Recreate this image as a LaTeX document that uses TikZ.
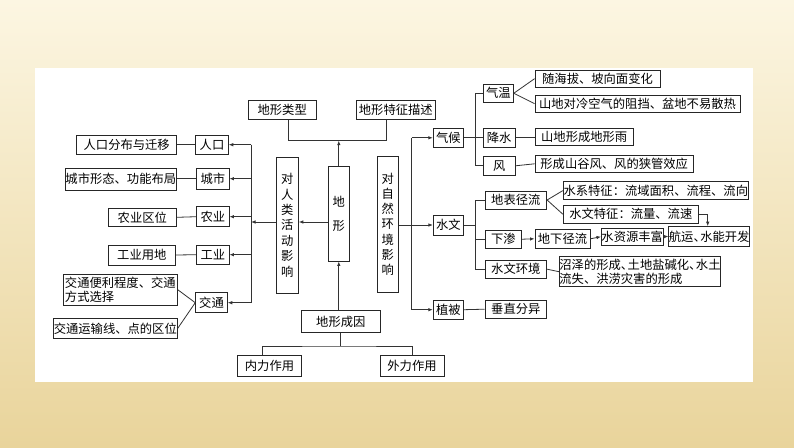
\documentclass[tikz,border=0pt]{standalone}
\usepackage{fontspec}
\setmainfont{Noto Sans CJK SC}
\usetikzlibrary{arrows.meta,calc}
\newcommand{\dun}{、\hspace{-0.45em}}
\definecolor{bgtop}{HTML}{FCF6E2}
\definecolor{bgbot}{HTML}{E9D49B}
\begin{document}
\begin{tikzpicture}[x=1pt,y=-1pt,
  box/.style={draw=black!85, line width=0.9pt, fill=white, inner sep=0.5pt,
    font=\fontsize{12.3}{14.5}\selectfont, text=black},
  vbox/.style={box, align=center},
  link/.style={draw=black!80, line width=0.8pt},
  arr/.style={link, -{Latex[length=4.5pt,width=3.5pt]}},
]
\useasboundingbox (0,0) rectangle (794,447);
\shade[top color=bgtop, bottom color=bgbot] (0,0) rectangle (794,447);
\fill[white] (35,68) rectangle (753,382);

% ---- left side ----
\node[box, minimum width=100pt, minimum height=19.3pt] (popmig) at (126.7,144.7) {人口分布与迁移};
\node[box, minimum width=32.6pt, minimum height=19.3pt] (renkou) at (212,144.7) {人口};
\node[box, minimum width=111.7pt, minimum height=22pt, inner xsep=0pt] (citymorph) at (120.8,179) {城市形态、功能布局};
\node[box, minimum width=32.3pt, minimum height=21.3pt] (chengshi) at (212.8,178.7) {城市};
\node[box, minimum width=68.7pt, minimum height=18.7pt] (nyqw) at (142.3,217.3) {农业区位};
\node[box, minimum width=32.3pt, minimum height=20pt] (nongye) at (212.8,216.7) {农业};
\node[box, minimum width=67.7pt, minimum height=20pt] (gyyd) at (141.8,255) {工业用地};
\node[box, minimum width=32.3pt, minimum height=19.3pt] (gongye) at (212.8,254.7) {工业};
\node[box, minimum width=114pt, minimum height=30.7pt, align=left] (jtbl) at (120.3,289.7) {交通便利程度、交通\\方式选择};
\node[box, minimum width=31.6pt, minimum height=20pt] (jiaotong) at (211.5,302.7) {交通};
\node[box, minimum width=124pt, minimum height=20pt, inner xsep=0pt] (jtys) at (115.3,328.3) {交通运输线、点的区位};

% ---- centre ----
\node[box, minimum width=67.7pt, minimum height=19.3pt] (dxlx) at (282.2,109.7) {地形类型};
\node[box, minimum width=78.3pt, minimum height=19.3pt] (dxtz) at (395.8,109.7) {地形特征描述};
\node[vbox, minimum width=22.3pt, minimum height=136pt, font=\fontsize{12.3}{15.4}\selectfont] (rlhd) at (287.2,225.3) {对\\人\\类\\活\\动\\影\\响};
\node[vbox, minimum width=21pt, minimum height=94.3pt, font=\fontsize{12.3}{24.4}\selectfont] (dixing) at (338.8,213.8) {地\\形};
\node[vbox, minimum width=21pt, minimum height=136.7pt, font=\fontsize{12.3}{15.3}\selectfont] (zrhj) at (387.8,224.3) {对\\自\\然\\环\\境\\影\\响};
\node[box, minimum width=78.3pt, minimum height=22pt] (dxcy) at (340.8,321.7) {地形成因};
\node[box, minimum width=64.4pt, minimum height=21pt] (nlzy) at (269.5,365.5) {内力作用};
\node[box, minimum width=64pt, minimum height=21pt] (wlzy) at (412,365.5) {外力作用};

% ---- right side ----
\node[box, minimum width=30pt, minimum height=19pt] (qihou) at (448.3,137.8) {气候};
\node[box, minimum width=30pt, minimum height=18.7pt] (qiwen) at (498.3,93.3) {气温};
\node[box, minimum width=31.7pt, minimum height=19pt] (jiangshui) at (499.2,137.8) {降水};
\node[box, minimum width=31.7pt, minimum height=18.3pt] (feng) at (499.2,165.8) {风};
\node[box, minimum width=125pt, minimum height=17.3pt] (qw1) at (597.5,78.7) {随海拔、坡向面变化};
\node[box, minimum width=205pt, minimum height=17.3pt] (qw2) at (637.5,103.7) {山地对冷空气的阻挡、盆地不易散热};
\node[box, minimum width=98.3pt, minimum height=16.7pt] (js1) at (584.2,136.7) {山地形成地形雨};
\node[box, minimum width=158.3pt, minimum height=17.7pt] (feng1) at (614.2,163.8) {形成山谷风、风的狭管效应};

\node[box, minimum width=30pt, minimum height=20pt] (shuiwen) at (448.3,225) {水文};
\node[box, minimum width=61.7pt, minimum height=18pt] (dbjl) at (515.8,200) {地表径流};
\node[box, minimum width=36.7pt, minimum height=18.3pt] (xiashen) at (503.3,239.2) {下渗};
\node[box, minimum width=55pt, minimum height=19pt] (dxjl) at (562.5,238.8) {地下径流};
\node[box, minimum width=61.7pt, minimum height=18.3pt] (swhj) at (515.8,269.2) {水文环境};
\node[box, minimum width=185pt, minimum height=17.8pt, inner xsep=0pt] (sxtz) at (655.8,190.6) {水系特征：流域面积、流程、流向};
\node[box, minimum width=135pt, minimum height=18.3pt] (swtz) at (630.8,214.2) {水文特征：流量、流速};
\node[box, minimum width=61pt, minimum height=16.7pt, inner xsep=0pt] (szfy) at (632.2,236.7) {水资源丰富};
\node[box, minimum width=78.3pt, minimum height=19.3pt, inner xsep=0pt] (hyns) at (709.2,236.3) {航运\dun 水能开发};
\node[box, minimum width=160pt, minimum height=30pt, align=left, inner xsep=0pt] (zzxc) at (640,271.7) {沼泽的形成\dun 土地盐碱化\dun 水土\\流失、洪涝灾害的形成};
\node[box, minimum width=30pt, minimum height=19.3pt] (zhibei) at (448.3,309.7) {植被};
\node[box, minimum width=61.7pt, minimum height=18.3pt] (czfy) at (515.8,309.2) {垂直分异};

% ---- connectors: left ----
\coordinate (bL) at (251,222);
\draw[link] (renkou.east -| bL) -- (jiaotong.east -| bL);
\foreach \n in {renkou,chengshi,nongye,gongye,jiaotong}
  \draw[arr] (\n.east -| bL) -- (\n.east);
\draw[arr] (rlhd.west |- bL) -- (bL);
\draw[arr] (dixing.west |- bL) -- (rlhd.east |- bL);
\draw[link] (renkou.west) -- (popmig.east);
\draw[link] (chengshi.west) -- (chengshi.west -| citymorph.east);
\draw[link] (nongye.west) -- (nyqw.east);
\draw[link] (gongye.west) -- (gyyd.east);
\draw[link] (jiaotong.west) -- (jtbl.east);
\draw[link] (jiaotong.west) -- (jtys.east);

% ---- connectors: centre ----
\coordinate (jt) at (338.8,140.7);
\draw[link] ([xshift=6pt]dxlx.south) |- (jt) -| ([xshift=-9pt]dxtz.south);
\draw[arr] (dixing.north) -- (jt);
\draw[arr] (dixing.south |- dxcy.north) -- (dixing.south);
\coordinate (jb) at (340.8,346);
\draw[link] (dxcy.south) -- (jb);
\draw[link] ([xshift=-7pt]nlzy.north) |- (jb) -| (wlzy.north);

% ---- connectors: right ----
\coordinate (bR) at (411.7,225);
\draw[link] (qihou.west -| bR) -- (zhibei.west -| bR);
\foreach \n in {qihou,shuiwen,zhibei}
  \draw[arr] (\n.west -| bR) -- (\n.west);
\draw[link] (zrhj.east |- shuiwen.west) -- (shuiwen.west -| bR);

\coordinate (bC) at (475,137.8);
\draw[link] (qihou.east) -- (bC);
\draw[link] (qiwen.west -| bC) -- (feng.west -| bC);
\foreach \n in {qiwen,jiangshui,feng}
  \draw[link] (\n.west -| bC) -- (\n.west);
\draw[link] (qiwen.east) -- (qw1.west);
\draw[link] (qiwen.east) -- (qw2.west);
\draw[link] (jiangshui.east) -- (jiangshui.east -| js1.west);
\draw[link] (feng.east) -- (feng1.west);

\coordinate (bH) at (475,225);
\draw[link] (shuiwen.east) -- (bH);
\draw[link] (dbjl.west -| bH) -- (swhj.west -| bH);
\foreach \n in {dbjl,xiashen,swhj}
  \draw[link] (\n.west -| bH) -- (\n.west);
\draw[link] (dbjl.east) -- (sxtz.west);
\draw[link] (dbjl.east) -- (swtz.west);
\draw[arr] (xiashen.east) -- (dxjl.west);
\draw[arr] (dxjl.east) -- (szfy.west);
\draw[arr] (szfy.east) -- (hyns.west);
\draw[arr] (swtz.east) -| ([xshift=-1.5pt]hyns.north);
\draw[link] (swhj.east) -- (zzxc.west);
\draw[link] (zhibei.east) -- (czfy.west);
\end{tikzpicture}
\end{document}
